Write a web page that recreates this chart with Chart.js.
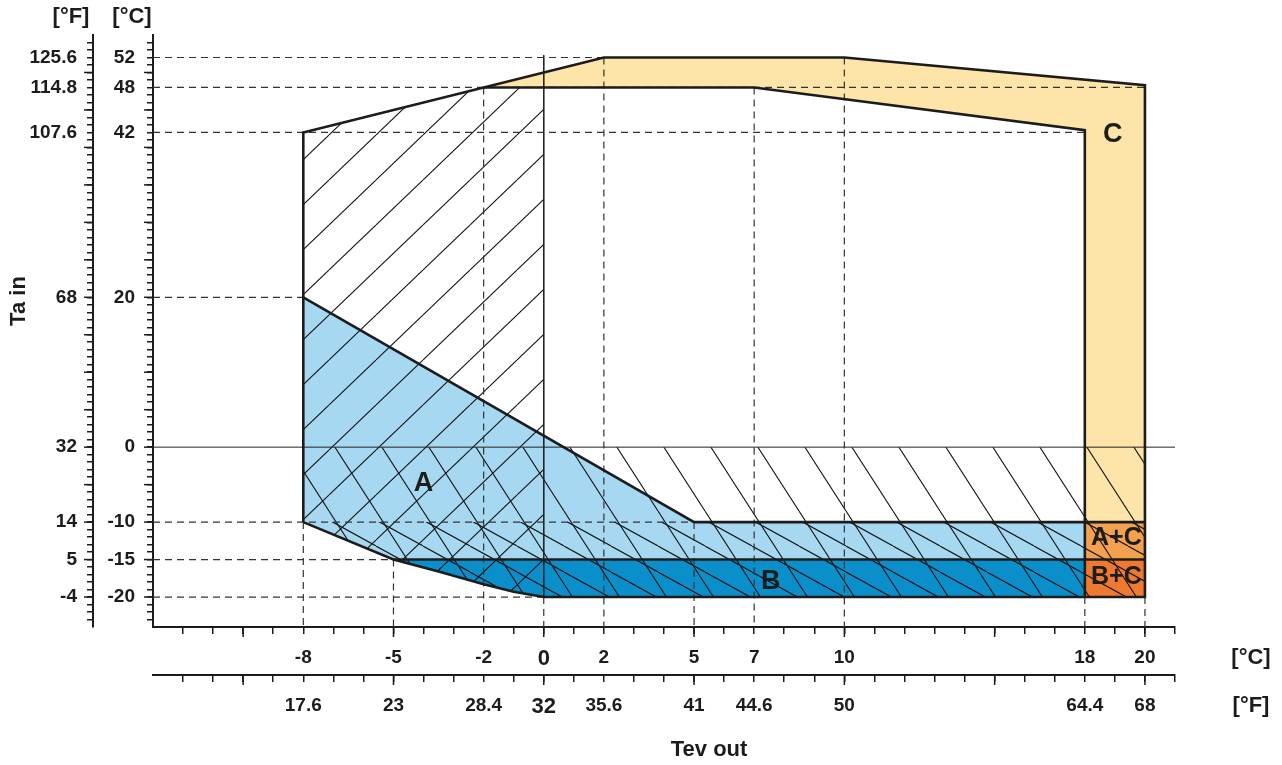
<!DOCTYPE html>
<html>
<head>
<meta charset="utf-8">
<script src="https://cdn.jsdelivr.net/npm/chart.js@4.4.1/dist/chart.umd.min.js"></script>
<style>
  html, body { margin: 0; padding: 0; background: #fff; }
</style>
</head>
<body>
<canvas id="chart1" width="1282" height="765"></canvas>
<script>
// tick labels: °C values and the °F text printed for them
const yTickC = [52, 48, 42, 20, 0, -10, -15, -20];
const yTickF = ['125.6', '114.8', '107.6', '68', '32', '14', '5', '-4'];
const xTickC = [-8, -5, -2, 0, 2, 5, 7, 10, 18, 20];
const xTickF = ['17.6', '23', '28.4', '32', '35.6', '41', '44.6', '50', '64.4', '68'];

// envelope, x = Tev out [°C], y = Ta in [°C]
const outerX = [-8, -8, 2, 10, 20, 20, 0, -1, -2, -3.5, -5, -8];
const outerY = [-10, 42, 52, 52, 48.3, -20, -20, -19.3, -18.3, -16.6, -15, -10];

const zoneCX = [-2, 2, 10, 20, 20, 18, 18, 7];
const zoneCY = [48, 52, 52, 48.3, -10, -10, 42.3, 48];
const zoneAX = [-8, 5, 18, 18, -5, -8];
const zoneAY = [20, -10, -10, -15, -15, -10];
const zoneBX = [-5, 18, 18, 0, -1, -2, -3.5];
const zoneBY = [-15, -15, -20, -20, -19.3, -18.3, -16.6];
const zoneACX = [18, 20, 20, 18];
const zoneACY = [-10, -10, -15, -15];
const zoneBCX = [18, 20, 20, 18];
const zoneBCY = [-15, -15, -20, -20];

// hatched areas
const hatchUpX = [-8, -8, -2, 0, 0, -1, -2, -3.5, -5];
const hatchUpY = [-10, 42, 48, 48, -20, -19.3, -18.3, -16.6, -15];
const hatchSteepX = [-8, 20, 20, 0, -1, -2, -3.5, -5, -8];
const hatchSteepY = [0, 0, -20, -20, -19.3, -18.3, -16.6, -15, -10];
const hatchFlatX = [-8, 20, 20, 0, -1, -2, -3.5, -5];
const hatchFlatY = [-10, -10, -20, -20, -19.3, -18.3, -16.6, -15];

// inner boundaries
const lineAX = [-8, 5, 20];
const lineAY = [20, -10, -10];
const lineCX = [-2, 7, 18, 18];
const lineCY = [48, 48, 42.3, -20];
const lineBX = [-5, 20];
const lineBY = [-15, -15];

// dashed guides: [y, x end] from the left axis, [x, y start] down to the bottom axis
const hGuides = [[52, 2], [48, 20], [42, 18], [20, -8], [-10, 5], [-15, -5], [-20, 0]];
const vGuides = [[-8, -10], [-5, -15], [-2, 48], [0, -20], [2, 52], [5, -10], [7, 48], [10, 52], [18, -20], [20, -20]];

const zoneText = ['A', 'B', 'C', 'A+C', 'B+C'];
const zoneTextX = [-4, 7.55, 18.93, 19.05, 19.05];
const zoneTextY = [-4.8, -18, 41.7, -12.2, -17.3];

const X_MIN = -13, X_MAX = 21, Y_MIN = -24, Y_MAX = 55;
const FONT = "'Liberation Sans', Arial, sans-serif";
const INK = '#1c1c1c';

const pts = (xs, ys) => xs.map((x, i) => ({x: x, y: ys[i]}));
const steps = (a, b) => Array.from({length: b - a + 1}, (_, i) => ({value: a + i}));

function hatch(w, h, down) {
  const c = document.createElement('canvas');
  c.width = w; c.height = h;
  const g = c.getContext('2d');
  g.strokeStyle = '#111';
  g.lineWidth = 1.1;
  for (let k = -1; k <= 1; k++) {
    g.beginPath();
    if (down) { g.moveTo(k * w, 0); g.lineTo((k + 1) * w, h); }
    else { g.moveTo(k * w, h); g.lineTo((k + 1) * w, 0); }
    g.stroke();
  }
  return g.createPattern(c, 'repeat');
}

const guidePts = [];
hGuides.forEach(g => { guidePts.push({x: X_MIN, y: g[0]}, {x: g[1], y: g[0]}, {x: NaN, y: NaN}); });
vGuides.forEach(g => { guidePts.push({x: g[0], y: g[1]}, {x: g[0], y: Y_MIN}, {x: NaN, y: NaN}); });

function area(data, color) {
  return { data: data, fill: 'shape', backgroundColor: color, borderColor: 'transparent', borderWidth: 0 };
}
function stroke(data, width, color, dash) {
  return { data: data, fill: false, borderColor: color, borderWidth: width, borderDash: dash || [] };
}

const close = (xs, ys) => pts(xs.concat(xs[0]), ys.concat(ys[0]));

// listed bottom first
const layers = [
  area(pts(zoneCX, zoneCY), '#fde4a8'),
  area(pts(zoneAX, zoneAY), '#a6d8f1'),
  area(pts(zoneBX, zoneBY), '#0b8fca'),
  area(pts(zoneACX, zoneACY), '#f3a04f'),
  area(pts(zoneBCX, zoneBCY), '#ee7a32'),
  area(pts(hatchUpX, hatchUpY), hatch(47, 45, false)),
  area(pts(hatchSteepX, hatchSteepY), hatch(47, 73, true)),
  area(pts(hatchFlatX, hatchFlatY), hatch(47, 26, true)),
  stroke(guidePts, 1.2, '#333', [7, 5]),
  stroke(pts([X_MIN, X_MAX], [0, 0]), 1, '#222'),
  stroke(pts([0, 0], [52.3, -20]), 1, '#222'),
  stroke(pts(lineAX, lineAY), 2.6, INK),
  stroke(pts(lineBX, lineBY), 2.6, INK),
  stroke(pts(lineCX, lineCY), 2.6, INK),
  stroke(close(outerX, outerY), 2.6, INK)
];
layers.forEach((d, i) => {
  d.order = layers.length - i;
  d.pointRadius = 0;
  d.tension = 0;
  d.clip = false;
});

const decor = {
  id: 'decor',
  afterDatasetsDraw(chart) {
    const ctx = chart.ctx;
    const {x, y} = chart.scales;
    ctx.save();
    ctx.fillStyle = INK;
    ctx.textAlign = 'center';
    ctx.textBaseline = 'middle';
    zoneText.forEach((t, i) => {
      ctx.font = 'bold ' + (t.length > 1 ? 25 : 27) + 'px ' + FONT;
      ctx.fillText(t, x.getPixelForValue(zoneTextX[i]), y.getPixelForValue(zoneTextY[i]));
    });
    ctx.restore();
  },
  afterDraw(chart) {
    const ctx = chart.ctx;
    const {x, x2, y, y2} = chart.scales;
    ctx.save();
    ctx.strokeStyle = INK;
    ctx.lineWidth = 1.5;
    // longer marks every 5 degrees
    [x, x2].forEach(s => s.ticks.forEach(t => {
      if (t.value % 5) return;
      const p = s.getPixelForValue(t.value);
      ctx.beginPath(); ctx.moveTo(p, s.top); ctx.lineTo(p, s.top + 10); ctx.stroke();
    }));
    [y, y2].forEach(s => s.ticks.forEach(t => {
      if (t.value % 5) return;
      const p = s.getPixelForValue(t.value);
      ctx.beginPath(); ctx.moveTo(s.right, p); ctx.lineTo(s.right - 9, p); ctx.stroke();
    }));

    ctx.fillStyle = INK;
    ctx.font = 'bold 22px ' + FONT;
    ctx.textAlign = 'center';
    ctx.textBaseline = 'middle';
    const top = chart.chartArea.top;
    ctx.fillText('[°F]', y2.right - 22, top - 18);
    ctx.fillText('[°C]', y.right - 21, top - 18);
    ctx.fillText('[°C]', x.right + 76, x.top + 31);
    ctx.fillText('[°F]', x.right + 76, x2.top + 31);
    ctx.fillText('Tev out', x.getPixelForValue(5.5), x2.top + 75);
    ctx.translate(19, y.getPixelForValue(19.5));
    ctx.rotate(-Math.PI / 2);
    ctx.fillText('Ta in', 0, 0);
    ctx.restore();
  }
};

function tickFont(c) {
  const big = c.tick && c.tick.value === 0 && c.scale.isHorizontal();
  return { family: FONT, weight: 'bold', size: big ? 22 : 19 };
}
function gridOpts(len) {
  return { drawOnChartArea: false, drawTicks: true, tickLength: len, color: INK, lineWidth: 1.5 };
}
const border = { display: true, color: INK, width: 2 };

new Chart(document.getElementById('chart1').getContext('2d'), {
  type: 'line',
  data: { datasets: layers },
  plugins: [decor],
  options: {
    responsive: false,
    animation: false,
    events: [],
    layout: { padding: { top: 35, right: 107, bottom: 0, left: 0 } },
    plugins: { legend: { display: false }, tooltip: { enabled: false } },
    scales: {
      x: {
        type: 'linear', position: 'bottom', weight: 0, min: X_MIN, max: X_MAX,
        afterBuildTicks: s => { s.ticks = steps(-12, 21); },
        afterFit: s => { s.height = 48; },
        grid: gridOpts(7), border: border,
        ticks: {
          autoSkip: false, maxRotation: 0, padding: 12, color: INK, font: tickFont,
          callback: v => { const i = xTickC.indexOf(v); return i < 0 ? '' : String(xTickC[i]); }
        }
      },
      x2: {
        type: 'linear', position: 'bottom', weight: 1, min: X_MIN, max: X_MAX,
        afterBuildTicks: s => { s.ticks = steps(-12, 21); },
        afterFit: s => { s.height = 90; },
        grid: gridOpts(7), border: border,
        ticks: {
          autoSkip: false, maxRotation: 0, padding: 12, color: INK, font: tickFont,
          callback: v => { const i = xTickC.indexOf(v); return i < 0 ? '' : xTickF[i]; }
        }
      },
      y: {
        type: 'linear', position: 'left', weight: 0, min: Y_MIN, max: Y_MAX,
        afterBuildTicks: s => { s.ticks = steps(-23, 54); },
        afterFit: s => { s.width = 60; },
        grid: gridOpts(6), border: border,
        ticks: {
          autoSkip: false, padding: 12, color: INK, font: tickFont,
          callback: v => { const i = yTickC.indexOf(v); return i < 0 ? '' : String(yTickC[i]); }
        }
      },
      y2: {
        type: 'linear', position: 'left', weight: 1, min: Y_MIN, max: Y_MAX,
        afterBuildTicks: s => { s.ticks = steps(-23, 54); },
        afterFit: s => { s.width = 93; },
        grid: gridOpts(6), border: border,
        ticks: {
          autoSkip: false, padding: 10, color: INK, font: tickFont,
          callback: v => { const i = yTickC.indexOf(v); return i < 0 ? '' : yTickF[i]; }
        }
      }
    }
  }
});
</script>
</body>
</html>
